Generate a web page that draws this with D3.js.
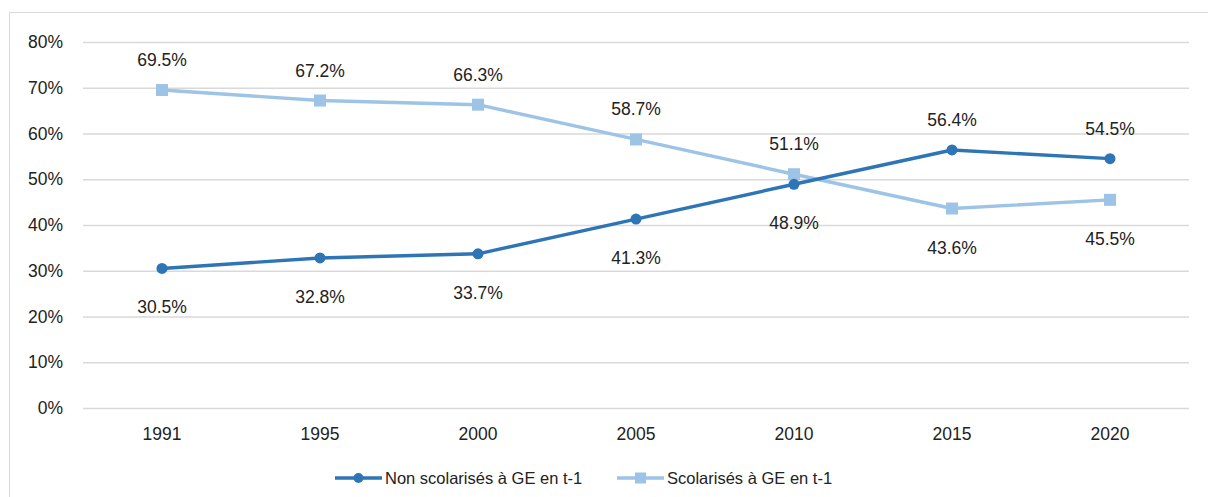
<!DOCTYPE html>
<html>
<head>
<meta charset="utf-8">
<script src="https://cdn.jsdelivr.net/npm/d3@7"></script>
<style>
  html, body { margin: 0; padding: 0; background: #fff; }
  svg { display: block; }
  text { font-family: "Liberation Sans", Arial, sans-serif; fill: #222; }
</style>
</head>
<body>
<svg id="chart" width="1208" height="497"></svg>
<script>
// Share of people by schooling status at the previous wave
const years = ["1991", "1995", "2000", "2005", "2010", "2015", "2020"];
const nonScolarises = [30.5, 32.8, 33.7, 41.3, 48.9, 56.4, 54.5];
const scolarises = [69.5, 67.2, 66.3, 58.7, 51.1, 43.6, 45.5];
const yTicks = [0, 10, 20, 30, 40, 50, 60, 70, 80];
const seriesNames = ["Non scolarisés à GE en t-1", "Scolarisés à GE en t-1"];

// Label placement per point: -1 above, +1 below
const nonPlacement = [1, 1, 1, 1, 1, -1, -1];
const scolPlacement = [-1, -1, -1, -1, -1, 1, 1];

const colors = { dark: "#2E75B6", light: "#9DC3E6" };
const numFont = 17.5;

const svg = d3.select("#chart");
const W = 1208, H = 497;
const plot = { left: 83, right: 1189, top: 42, bottom: 408 };

// Chart frame
svg.append("path")
  .attr("d", `M9.5,${H} V12.5 H${W}`)
  .attr("fill", "none")
  .attr("stroke", "#d9d9d9")
  .attr("stroke-width", 1);

const x = d3.scaleBand().domain(years).range([plot.left, plot.right]);
const y = d3.scaleLinear().domain([0, 80]).range([plot.bottom, plot.top]);
const cx = d => x(d) + x.bandwidth() / 2;

// Gridlines and y labels
const yAxis = d3.axisLeft(y)
  .tickValues(yTicks)
  .tickSize(-(plot.right - plot.left))
  .tickPadding(20)
  .tickFormat(d => d + "%");
const gy = svg.append("g").attr("transform", `translate(${plot.left},0)`).call(yAxis);
gy.select(".domain").remove();
gy.selectAll(".tick line").attr("stroke", "#d9d9d9").attr("stroke-width", 1.3);
gy.selectAll(".tick text").attr("font-size", numFont).attr("fill", "#222")
  .style("font-family", "Liberation Sans, Arial, sans-serif");

// Category labels
const xAxis = d3.axisBottom(x).tickSize(0).tickPadding(20);
const gx = svg.append("g").attr("transform", `translate(0,${plot.bottom})`).call(xAxis);
gx.select(".domain").remove();
gx.selectAll(".tick text").attr("font-size", numFont).attr("fill", "#222")
  .style("font-family", "Liberation Sans, Arial, sans-serif");

const line = d3.line().x((d, i) => cx(years[i])).y(d => y(d));

function drawSeries(values, color, marker, placement) {
  svg.append("path")
    .datum(values)
    .attr("d", line)
    .attr("fill", "none")
    .attr("stroke", color)
    .attr("stroke-width", 3.4)
    .attr("stroke-linejoin", "round");

  const g = svg.append("g");
  if (marker === "circle") {
    g.selectAll("circle").data(values).join("circle")
      .attr("cx", (d, i) => cx(years[i]))
      .attr("cy", d => y(d))
      .attr("r", 5.5)
      .attr("fill", color);
  } else {
    g.selectAll("rect").data(values).join("rect")
      .attr("x", (d, i) => cx(years[i]) - 6)
      .attr("y", d => y(d) - 6)
      .attr("width", 12)
      .attr("height", 12)
      .attr("fill", color);
  }

  svg.append("g").selectAll("text").data(values).join("text")
    .attr("x", (d, i) => cx(years[i]))
    .attr("y", (d, i) => y(d) + (placement[i] < 0 ? -24 : 45))
    .attr("text-anchor", "middle")
    .attr("font-size", numFont)
    .text(d => d.toFixed(1) + "%");
}

drawSeries(scolarises, colors.light, "square", scolPlacement);
drawSeries(nonScolarises, colors.dark, "circle", nonPlacement);

// Legend
const legendY = 478;
const legendItems = [
  { name: seriesNames[0], color: colors.dark, marker: "circle", x0: 335 },
  { name: seriesNames[1], color: colors.light, marker: "square", x0: 617 }
];
legendItems.forEach(it => {
  const g = svg.append("g");
  g.append("line")
    .attr("x1", it.x0).attr("x2", it.x0 + 47)
    .attr("y1", legendY).attr("y2", legendY)
    .attr("stroke", it.color).attr("stroke-width", 3.4);
  if (it.marker === "circle") {
    g.append("circle").attr("cx", it.x0 + 23.5).attr("cy", legendY).attr("r", 5).attr("fill", it.color);
  } else {
    g.append("rect").attr("x", it.x0 + 18).attr("y", legendY - 5.5).attr("width", 11).attr("height", 11).attr("fill", it.color);
  }
  g.append("text")
    .attr("x", it.x0 + 50)
    .attr("y", legendY)
    .attr("dy", "0.35em")
    .attr("font-size", 16.5)
    .text(it.name);
});
</script>
</body>
</html>
